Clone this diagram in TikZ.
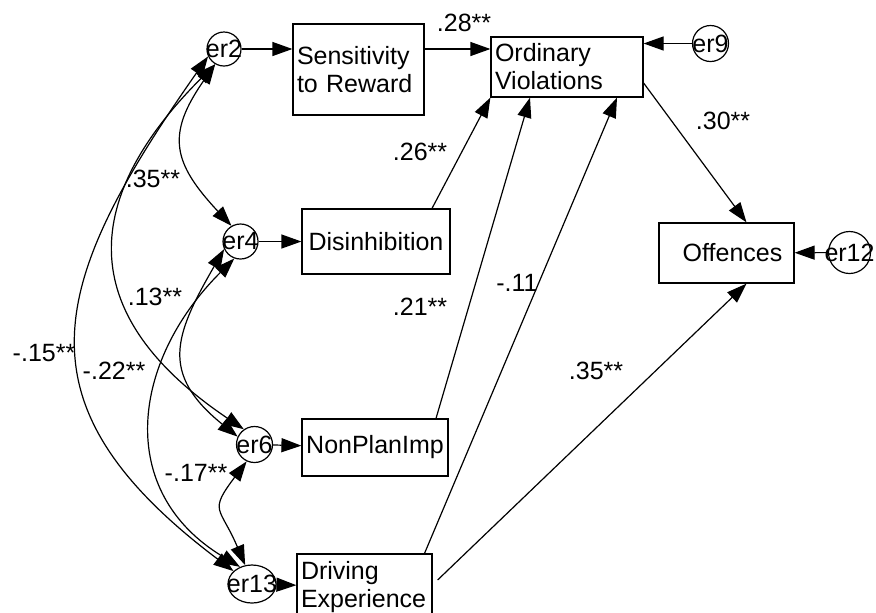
\documentclass[tikz,border=0pt]{standalone}
\usepackage{fontspec}
\setmainfont{Liberation Sans}
\usetikzlibrary{arrows.meta, shapes.geometric}
\newcommand{\errname}[1]{\makebox[0pt]{#1}}

\begin{document}
\begin{tikzpicture}[x=0.5pt, y=-0.5pt, line width=0.6pt,
    >={Triangle[length=10pt,width=7pt]},
    font=\fontsize{12.5}{14}\selectfont,
    obs/.style={draw, rectangle, inner xsep=2pt, inner ysep=1pt},
    err/.style={draw, circle, inner sep=0pt},
    lbl/.style={inner sep=0pt}]
  \useasboundingbox (0,0) rectangle (876,612);

  \node[obs, text width=61.5pt, minimum height=45.5pt, align=left] (sens) at (358.5,69.5) {Sensitivity\\to Reward};
  \node[obs, text width=72pt, minimum height=30pt, align=left] (ov) at (567,67) {Ordinary\\Violations};
  \node[obs, text width=70pt, minimum height=32.5pt, align=center] (dis) at (376,241.5) {Disinhibition};
  \node[obs, text width=69pt, minimum height=28.5pt, align=center] (npi) at (375,447.5) {NonPlanImp};
  \node[obs, text width=63.5pt, minimum height=33pt, align=left] (drv) at (364.5,587) {Driving\\Experience};
  \node[obs, text width=63.5pt, minimum height=30pt, align=center] (off) at (726.5,253) {\hspace{6pt}Offences};

  \node[err, minimum size=17pt] (er2) at (224,49) {\errname{er2}};
  \node[err, minimum size=17.5pt] (er4) at (240.5,241.5) {\errname{er4}};
  \node[err, minimum size=18pt] (er6) at (254.5,444.5) {\errname{er6}};
  \node[err, ellipse, minimum width=24pt, minimum height=19pt] (er13) at (252,584) {\errname{er13}};
  \node[err, minimum size=18pt] (er9) at (710.5,43.5) {\errname{er9}};
  \node[err, minimum size=21pt] (er12) at (849.5,252.5) {\errname{er12}};

  \draw[->] (er2) -- (sens.west |- er2);
  \draw[->] (er4) -- (dis);
  \draw[->] (er6) -- (npi);
  \draw[->] (er13) -- (drv);
  \draw[->] (er9) -- (ov.east |- er9);
  \draw[->] (er12) -- (off);

  \draw[->] (sens.east |- er2) -- (ov.west |- er2);
  \draw[->] ([xshift=28pt]dis.north) -- (ov.south west);
  \draw[->] ([xshift=30.5pt]npi.north) -- ([xshift=-18.5pt]ov.south);
  \draw[->] ([xshift=30pt]drv.north) -- ([xshift=25pt]ov.south);
  \draw[->] ([yshift=-8pt]ov.east) -- ([xshift=10pt]off.north);
  \draw[->] ([xshift=2.5pt,yshift=3.5pt]drv.east) -- ([xshift=10pt]off.south);

  \draw[<->] (er2.240) .. controls +(235:43pt) and +(133:43pt) .. (er4.120);
  \draw[<->] (er2.240) .. controls +(225:99pt) and +(146:99pt) .. (er6.125);
  \draw[<->] (er2.205) .. controls +(235:139pt) and +(143:139pt) .. (er13.145);
  \draw[<->] (er4.205) .. controls +(240:50pt) and +(141:50pt) .. (er6.155);
  \draw[<->] (er4.250) .. controls +(225:73pt) and +(149:73pt) .. (er13.125);
  \draw[<->] (er6.245) .. controls +(233:32pt) and +(113:32pt) .. (er13.110);

  \node[lbl] (l28) at (464,23) {.28**};
  \node[lbl] (l26) at (420,152) {.26**};
  \node[lbl] (l21) at (420,307) {.21**};
  \node[lbl] (l11) at (517,283) {-.11};
  \node[lbl] (l30) at (723,121) {.30**};
  \node[lbl] (l35b) at (596,371) {.35**};
  \node[lbl] (l35a) at (153,179) {.35**};
  \node[lbl] (l13) at (155,297) {.13**};
  \node[lbl] (l15) at (44,353) {-.15**};
  \node[lbl] (l22) at (114,371) {-.22**};
  \node[lbl] (l17) at (196,473) {-.17**};
\end{tikzpicture}
\end{document}
